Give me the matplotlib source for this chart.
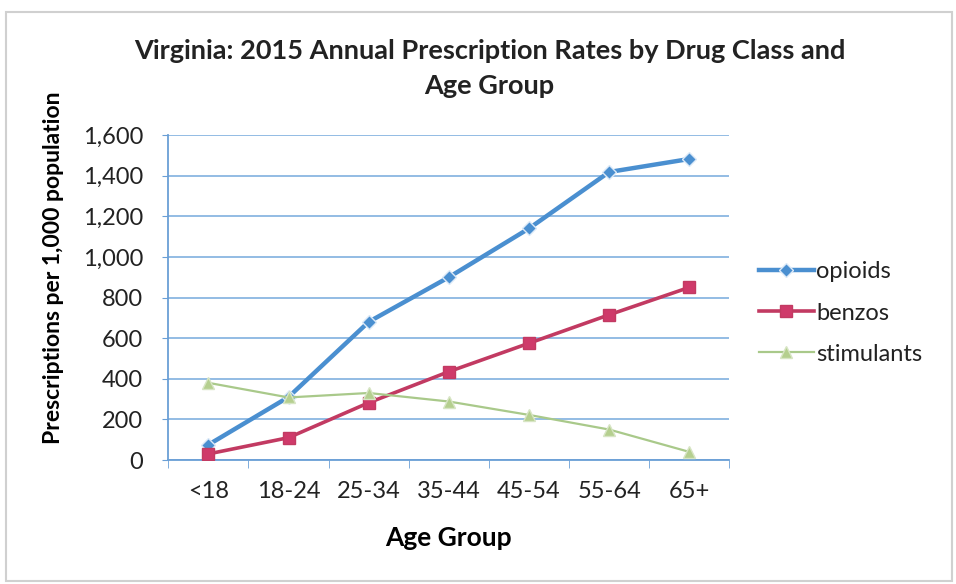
import matplotlib
matplotlib.use("Agg")
import matplotlib.pyplot as plt
from matplotlib.patches import Rectangle

age_groups = ["<18", "18-24", "25-34", "35-44", "45-54", "55-64", "65+"]
opioids = [75, 310, 680, 900, 1140, 1418, 1482]
benzos = [30, 110, 282, 435, 575, 715, 850]
stimulants = [380, 308, 330, 288, 222, 150, 40]
y_ticks = [0, 200, 400, 600, 800, 1000, 1200, 1400, 1600]

plt.rcParams['font.family'] = ['Lato', 'DejaVu Sans']
plt.rcParams['text.color'] = '#222222'

fig = plt.figure(figsize=(9.56, 5.84), dpi=100)
fig.patches.append(Rectangle((0.006, 0.005), 0.99, 0.975, transform=fig.transFigure,
                             fill=False, edgecolor='#d0d0d0', linewidth=1.5))
ax = fig.add_axes([0.176, 0.2123, 0.587, 0.5565])

x = list(range(len(age_groups)))
ax.plot(x, opioids, color='#4a8fd0', linewidth=3.2, marker='D', markersize=7,
        markerfacecolor='#4a8fd0', markeredgecolor='#dce9f7', label='opioids', zorder=3)
ax.plot(x, benzos, color='#c23a62', linewidth=2.6, marker='s', markersize=9,
        markerfacecolor='#cf3a6a', markeredgecolor='#c23a62', label='benzos', zorder=3)
ax.plot(x, stimulants, color='#a9c98a', linewidth=1.6, marker='^', markersize=9,
        markerfacecolor='#b5cf8f', markeredgecolor='#d7e5c4', label='stimulants', zorder=3)

ax.set_xlim(-0.5, len(age_groups) - 0.5)
ax.set_ylim(0, 1600)
ax.set_yticks(y_ticks)
ax.set_yticklabels([f"{v:,}" for v in y_ticks], fontsize=17, color='#222222')
ax.set_xticks(x)
ax.set_xticklabels(age_groups, fontsize=17, color='#222222')
ax.set_xticks([i + 0.5 for i in range(-1, len(age_groups))], minor=True)
ax.tick_params(axis='x', which='major', length=0, pad=15)
ax.tick_params(axis='x', which='minor', length=6, color='#6a9fd6', direction='out')
ax.tick_params(axis='y', length=4, color='#6a9fd6', pad=14)

ax.grid(axis='y', color='#8ab6e2', linewidth=1.3)
ax.set_axisbelow(True)
for side in ['top', 'right']:
    ax.spines[side].set_visible(False)
ax.spines['left'].set_color('#6a9fd6')
ax.spines['bottom'].set_color('#6a9fd6')
ax.spines['left'].set_linewidth(1.3)
ax.spines['bottom'].set_linewidth(1.3)

ax.set_xlabel("Age Group", fontsize=19, fontweight='bold')
ax.xaxis.set_label_coords(0.5, (460 - 538) / 325, transform=ax.transAxes)
ax.xaxis.label.set_va('center')
ax.set_ylabel("Prescriptions per 1,000 population", fontsize=16.5, fontweight='bold')
ax.yaxis.set_label_coords((53 - 168) / 561, (460 - 268) / 325, transform=ax.transAxes)
ax.yaxis.label.set_va('center')
fig.text(0.512, 0.883, "Virginia: 2015 Annual Prescription Rates by Drug Class and\nAge Group",
         ha='center', va='center', fontsize=19.5, fontweight='bold', linespacing=1.55)

fig.legend(loc='center left', bbox_to_anchor=(0.772, 0.464), frameon=False, fontsize=17,
           handlelength=2.3, handletextpad=0.1, labelspacing=0.85)

fig.savefig("out.png", dpi=100, facecolor='white')
